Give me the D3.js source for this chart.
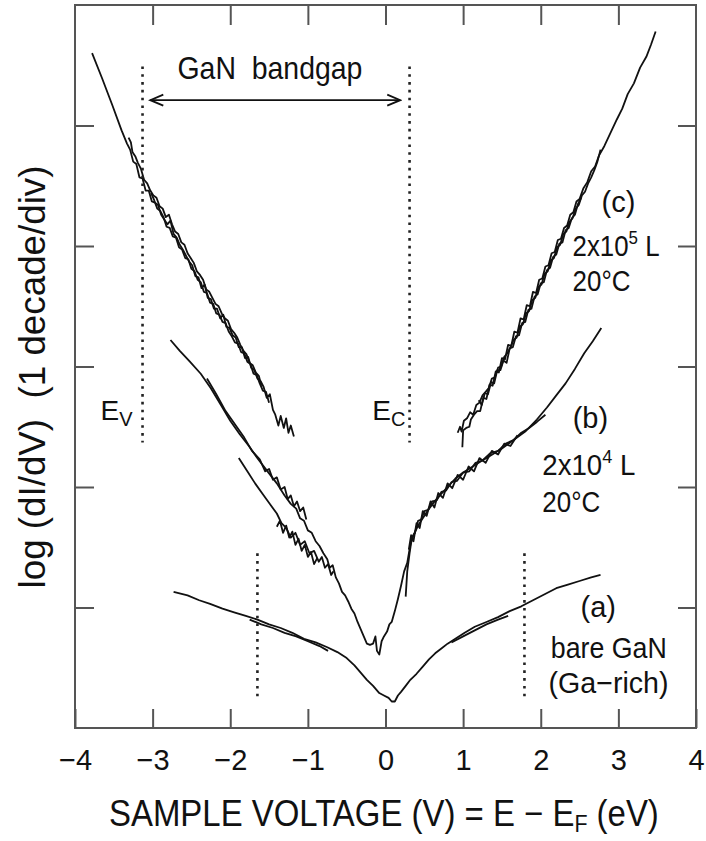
<!DOCTYPE html>
<html>
<head>
<meta charset="utf-8">
<script src="https://cdn.jsdelivr.net/npm/d3@7"></script>
<style>
body { margin: 0; background: #fff; }
text { font-family: "Liberation Sans", Arial, sans-serif; fill: #111; white-space: pre; }
</style>
</head>
<body>
<script>
// DATA (sample voltage in eV, log dI/dV in decades)
const xTicks = [-4, -3, -2, -1, 0, 1, 2, 3, 4];
const yTicks = [1, 2, 3, 4, 5];

// (c) 2x10^5 L, filled-state side
const cLeft1 = [[-3.78,5.60],[-3.65,5.39],[-3.52,5.17],[-3.40,4.96],[-3.33,4.85],[-3.29,4.80],[-3.25,4.70],[-3.21,4.68],[-3.17,4.57],[-3.13,4.56],[-3.09,4.46],[-3.05,4.46],[-3.01,4.37],[-2.97,4.36],[-2.93,4.34],[-2.89,4.26],[-2.85,4.22],[-2.81,4.18],[-2.77,4.21],[-2.73,4.10],[-2.69,4.07],[-2.65,4.01],[-2.61,3.97],[-2.57,3.92],[-2.53,3.87],[-2.49,3.84],[-2.45,3.75],[-2.41,3.74],[-2.37,3.65],[-2.33,3.68],[-2.29,3.57],[-2.25,3.56],[-2.21,3.48],[-2.17,3.48],[-2.13,3.40],[-2.09,3.43],[-2.05,3.33],[-2.01,3.32],[-1.97,3.26],[-1.93,3.24],[-1.89,3.16],[-1.85,3.16],[-1.81,3.07],[-1.77,3.08],[-1.73,2.99],[-1.69,2.97],[-1.65,2.90],[-1.61,2.88],[-1.57,2.83],[-1.53,2.74],[-1.49,2.77],[-1.45,2.64],[-1.42,2.60],[-1.38,2.51],[-1.35,2.59],[-1.31,2.49],[-1.28,2.57],[-1.25,2.45],[-1.22,2.51],[-1.18,2.42]];
const cLeft2 = [[-3.31,4.90],[-3.28,4.86],[-3.26,4.78],[-3.22,4.74],[-3.19,4.69],[-3.15,4.64],[-3.11,4.55],[-3.07,4.52],[-3.03,4.46],[-2.99,4.42],[-2.95,4.40],[-2.91,4.33],[-2.87,4.31],[-2.83,4.24],[-2.79,4.26],[-2.75,4.18],[-2.71,4.12],[-2.67,4.10],[-2.63,4.03],[-2.59,4.01],[-2.55,3.94],[-2.51,3.90],[-2.47,3.86],[-2.43,3.79],[-2.39,3.76],[-2.35,3.72],[-2.31,3.64],[-2.27,3.62],[-2.23,3.57],[-2.19,3.52],[-2.15,3.50],[-2.11,3.44],[-2.07,3.40],[-2.03,3.38],[-1.99,3.31],[-1.95,3.28],[-1.91,3.24],[-1.87,3.18],[-1.83,3.13],[-1.79,3.10],[-1.75,3.03],[-1.71,3.01],[-1.67,2.95],[-1.63,2.92],[-1.60,2.84]];
const cLeft3 = [[-3.02,4.44],[-2.98,4.38],[-2.94,4.31],[-2.90,4.29],[-2.86,4.24],[-2.82,4.16],[-2.78,4.15],[-2.74,4.08],[-2.70,4.07],[-2.66,3.99],[-2.62,3.97],[-2.58,3.90],[-2.54,3.89],[-2.50,3.81],[-2.46,3.79],[-2.42,3.72],[-2.38,3.70],[-2.34,3.62],[-2.30,3.61],[-2.26,3.53],[-2.22,3.52],[-2.18,3.44],[-2.14,3.43],[-2.10,3.37],[-2.06,3.36],[-2.02,3.29],[-1.98,3.25],[-1.94,3.20],[-1.90,3.19],[-1.86,3.12],[-1.82,3.11],[-1.78,3.04],[-1.74,3.02],[-1.70,2.94],[-1.66,2.93],[-1.62,2.86],[-1.58,2.80],[-1.54,2.79],[-1.50,2.70]];

// (c) empty-state side
const cRight1 = [[0.99,2.33],[1.00,2.47],[1.04,2.49],[1.08,2.50],[1.10,2.56],[1.14,2.60],[1.18,2.63],[1.22,2.63],[1.26,2.74],[1.30,2.73],[1.34,2.85],[1.38,2.84],[1.42,2.96],[1.46,2.95],[1.50,3.07],[1.54,3.06],[1.58,3.18],[1.62,3.17],[1.66,3.29],[1.70,3.28],[1.74,3.40],[1.78,3.39],[1.82,3.51],[1.86,3.50],[1.90,3.62],[1.94,3.61],[1.98,3.72],[2.02,3.73],[2.06,3.83],[2.10,3.84],[2.14,3.94],[2.18,3.95],[2.22,4.05],[2.26,4.06],[2.30,4.15],[2.34,4.17],[2.38,4.26],[2.42,4.28],[2.46,4.37],[2.50,4.39],[2.55,4.48],[2.60,4.53],[2.65,4.62],[2.70,4.66],[2.75,4.75],[2.82,4.83],[2.90,4.94],[2.98,5.05],[3.05,5.14],[3.12,5.26],[3.20,5.35],[3.28,5.48],[3.36,5.57],[3.42,5.67],[3.48,5.78]];
const cRight2 = [[0.93,2.45],[0.96,2.50],[0.98,2.46],[1.01,2.55],[1.05,2.57],[1.09,2.62],[1.13,2.60],[1.17,2.68],[1.21,2.70],[1.25,2.76],[1.29,2.79],[1.33,2.82],[1.37,2.90],[1.41,2.91],[1.45,2.99],[1.49,3.00],[1.53,3.08],[1.57,3.11],[1.61,3.16],[1.65,3.22],[1.69,3.24],[1.73,3.33],[1.77,3.35],[1.81,3.44],[1.85,3.46],[1.89,3.55],[1.93,3.57],[1.97,3.66],[2.01,3.68],[2.05,3.77],[2.09,3.79],[2.13,3.88],[2.17,3.90],[2.21,3.99],[2.25,4.01],[2.29,4.10],[2.33,4.12],[2.37,4.20],[2.41,4.23],[2.45,4.31],[2.49,4.34],[2.53,4.42],[2.57,4.45],[2.61,4.52],[2.65,4.57],[2.69,4.63],[2.73,4.70],[2.77,4.80]];
const cRight3 = [[1.20,2.72],[1.24,2.68],[1.28,2.78],[1.32,2.77],[1.36,2.87],[1.40,2.86],[1.44,2.97],[1.48,2.97],[1.52,3.05],[1.56,3.03],[1.60,3.15],[1.64,3.16],[1.68,3.25],[1.72,3.26],[1.76,3.36],[1.80,3.37],[1.84,3.47],[1.88,3.48],[1.92,3.58],[1.96,3.60],[2.00,3.69],[2.04,3.70],[2.08,3.80],[2.12,3.82],[2.16,3.91],[2.20,3.93],[2.24,4.02],[2.28,4.03],[2.32,4.13],[2.36,4.15],[2.40,4.23],[2.44,4.26],[2.48,4.35],[2.52,4.40]];

// (b) 2x10^4 L
const bMain = [[-2.77,3.22],[-2.65,3.13],[-2.52,3.04],[-2.38,2.94],[-2.25,2.82],[-2.12,2.68],[-2.00,2.55],[-1.88,2.44],[-1.76,2.34],[-1.64,2.23],[-1.52,2.13],[-1.40,2.03],[-1.30,1.93],[-1.22,1.86],[-1.15,1.82],[-1.10,1.74],[-1.05,1.72],[-1.00,1.64],[-0.95,1.62],[-0.90,1.55],[-0.85,1.51],[-0.80,1.45],[-0.75,1.40],[-0.72,1.33],[-0.68,1.35],[-0.64,1.25],[-0.60,1.20],[-0.56,1.13],[-0.52,1.10],[-0.48,1.05],[-0.44,0.99],[-0.40,0.95],[-0.36,0.88],[-0.32,0.82],[-0.28,0.76],[-0.24,0.70],[-0.20,0.69],[-0.16,0.70],[-0.13,0.76],[-0.11,0.64],[-0.08,0.61],[-0.05,0.72],[-0.02,0.76],[0.02,0.80],[0.05,0.86],[0.08,0.88],[0.12,0.97],[0.16,1.07],[0.20,1.18],[0.24,1.30],[0.28,1.37],[0.32,1.52],[0.36,1.60],[0.42,1.68],[0.48,1.74],[0.55,1.81],[0.62,1.87],[0.70,1.93],[0.80,2.00],[0.90,2.07],[1.00,2.12],[1.10,2.16],[1.22,2.21],[1.35,2.26],[1.50,2.32],[1.65,2.39],[1.80,2.46],[1.95,2.56],[2.08,2.66],[2.20,2.76],[2.32,2.86],[2.44,2.98],[2.56,3.11],[2.67,3.21],[2.78,3.32]];
const bLeft2 = [[-2.30,2.90],[-2.18,2.77],[-2.06,2.63],[-1.94,2.52],[-1.82,2.41],[-1.72,2.30],[-1.62,2.23],[-1.55,2.13],[-1.50,2.15],[-1.45,2.06],[-1.40,2.08],[-1.35,1.98],[-1.30,2.00],[-1.26,1.90],[-1.22,1.93],[-1.18,1.84],[-1.14,1.88],[-1.10,1.80],[-1.06,1.83],[-1.02,1.73]];
const bLeft3 = [[-1.89,2.24],[-1.78,2.13],[-1.68,2.03],[-1.58,1.94],[-1.48,1.85],[-1.40,1.78],[-1.34,1.70],[-1.28,1.66],[-1.22,1.58],[-1.16,1.62],[-1.10,1.52],[-1.04,1.55],[-0.98,1.45],[-0.92,1.47],[-0.86,1.38],[-0.82,1.42],[-0.78,1.33],[-0.74,1.36],[-0.70,1.27],[-0.67,1.30]];
const bLeft4 = [[-1.40,1.67],[-1.36,1.72],[-1.32,1.62],[-1.28,1.68],[-1.24,1.58],[-1.20,1.63],[-1.16,1.52],[-1.12,1.57],[-1.08,1.47],[-1.04,1.52],[-1.00,1.42],[-0.96,1.46],[-0.92,1.36],[-0.88,1.41]];
const bRight2 = [[0.26,1.09],[0.28,1.30],[0.31,1.45],[0.34,1.58],[0.38,1.62],[0.42,1.72],[0.46,1.73],[0.50,1.80],[0.55,1.81],[0.60,1.88],[0.66,1.89],[0.72,1.96],[0.78,1.97],[0.85,2.04],[0.92,2.05],[1.00,2.12],[1.08,2.13],[1.16,2.20],[1.25,2.22],[1.35,2.28],[1.45,2.30],[1.55,2.36],[1.65,2.39],[1.75,2.45],[1.85,2.49],[1.95,2.54],[2.06,2.60]];
const bRight3 = [[0.30,1.48],[0.33,1.60],[0.36,1.55],[0.40,1.70],[0.44,1.66],[0.48,1.80],[0.53,1.76],[0.58,1.88],[0.63,1.83],[0.68,1.95],[0.74,1.91],[0.80,2.03],[0.86,1.99],[0.93,2.10],[1.00,2.06],[1.07,2.17],[1.14,2.13],[1.21,2.24],[1.29,2.20],[1.37,2.30],[1.45,2.27],[1.53,2.36],[1.61,2.34],[1.70,2.43]];

// (a) bare GaN (Ga-rich)
const aMain = [[-2.73,1.13],[-2.55,1.10],[-2.40,1.06],[-2.26,1.03],[-2.10,0.99],[-1.95,0.96],[-1.80,0.93],[-1.65,0.90],[-1.50,0.86],[-1.35,0.83],[-1.20,0.79],[-1.05,0.74],[-0.90,0.71],[-0.75,0.67],[-0.62,0.63],[-0.50,0.58],[-0.40,0.52],[-0.32,0.46],[-0.24,0.40],[-0.16,0.35],[-0.08,0.29],[-0.02,0.27],[0.04,0.25],[0.08,0.22],[0.12,0.22],[0.16,0.27],[0.20,0.30],[0.26,0.35],[0.32,0.40],[0.40,0.45],[0.48,0.51],[0.56,0.57],[0.64,0.62],[0.72,0.66],[0.80,0.70],[0.90,0.74],[1.02,0.79],[1.15,0.84],[1.30,0.88],[1.45,0.92],[1.60,0.97],[1.75,1.01],[1.90,1.06],[2.05,1.11],[2.20,1.16],[2.35,1.19],[2.50,1.22],[2.65,1.25],[2.77,1.27]];
const aLeft2 = [[-1.75,0.90],[-1.60,0.86],[-1.45,0.83],[-1.30,0.79],[-1.15,0.76],[-1.00,0.72],[-0.85,0.68],[-0.74,0.64]];
const aRight2 = [[0.85,0.71],[1.00,0.76],[1.15,0.81],[1.30,0.86],[1.45,0.90],[1.58,0.93]];

// band edges and surface-state markers (x, yFrom, yTo)
const dottedLines = [[-3.13, 2.37, 5.49], [0.31, 2.37, 5.49], [-1.65, 0.25, 1.45], [1.79, 0.25, 1.45]];
const gapArrow = [[-3.03, 5.21], [0.19, 5.21]];

const traces = [cLeft1, cLeft2, cLeft3, cRight1, cRight2, cRight3,
  bMain, bLeft2, bLeft3, bLeft4, bRight2, bRight3, aMain, aLeft2, aRight2];

// CONFIGURATION
const width = 706;
const height = 841;
const margin = {top: 5, right: 10, bottom: 113, left: 75};
const xScale = d3.scaleLinear().domain([-4, 4]).range([margin.left, width - margin.right]);
const yScale = d3.scaleLinear().domain([0, 6]).range([height - margin.bottom, margin.top]);

const svg = d3.select('body').append('svg')
  .attr('width', width)
  .attr('height', height);

// AXES (ticks inside, labels only on bottom)
const tickColor = '#555';
function styleAxis(g) {
  g.select('.domain').remove();
  g.selectAll('.tick line').attr('stroke', tickColor).attr('stroke-width', 2);
}
svg.append('g')
  .attr('transform', `translate(0, ${yScale(0)})`)
  .call(d3.axisBottom(xScale).tickValues(xTicks).tickSize(-19).tickPadding(21))
  .call(styleAxis)
  .call(g => g.selectAll('.tick text').attr('font-size', 29).attr('fill', '#111')
    .attr('font-family', '"Liberation Sans", Arial, sans-serif'));
svg.append('g')
  .attr('transform', `translate(0, ${yScale(6)})`)
  .call(d3.axisTop(xScale).tickValues(xTicks.slice(1, -1)).tickSize(-20).tickFormat(''))
  .call(styleAxis);
svg.append('g')
  .attr('transform', `translate(${xScale(-4)}, 0)`)
  .call(d3.axisLeft(yScale).tickValues(yTicks).tickSize(-19).tickFormat(''))
  .call(styleAxis);
svg.append('g')
  .attr('transform', `translate(${xScale(4)}, 0)`)
  .call(d3.axisRight(yScale).tickValues(yTicks).tickSize(-18).tickFormat(''))
  .call(styleAxis);

svg.append('rect')
  .attr('x', xScale(-4))
  .attr('y', yScale(6))
  .attr('width', xScale(4) - xScale(-4))
  .attr('height', yScale(0) - yScale(6))
  .attr('fill', 'none')
  .attr('stroke', tickColor)
  .attr('stroke-width', 2);

// CURVES
const line = d3.line()
  .x(d => xScale(d[0]))
  .y(d => yScale(d[1]));

svg.append('g').selectAll('path')
  .data(traces)
  .enter()
  .append('path')
  .attr('d', line)
  .attr('fill', 'none')
  .attr('stroke', '#111')
  .attr('stroke-width', 1.8)
  .attr('stroke-linejoin', 'round');

// DOTTED MARKERS
svg.append('g').selectAll('line')
  .data(dottedLines)
  .enter()
  .append('line')
  .attr('x1', d => xScale(d[0]))
  .attr('x2', d => xScale(d[0]))
  .attr('y1', d => yScale(d[2]))
  .attr('y2', d => yScale(d[1]))
  .attr('stroke', '#222')
  .attr('stroke-width', 2.6)
  .attr('stroke-dasharray', '2.6,5.2');

// BANDGAP ARROW (open heads pointing outwards)
svg.append('defs').append('marker')
  .attr('id', 'head')
  .attr('viewBox', '-15 -7 17 14')
  .attr('refX', 0)
  .attr('refY', 0)
  .attr('markerWidth', 17)
  .attr('markerHeight', 14)
  .attr('markerUnits', 'userSpaceOnUse')
  .attr('orient', 'auto-start-reverse')
  .append('path')
  .attr('d', 'M-13,-5.5 L0,0 L-13,5.5')
  .attr('fill', 'none')
  .attr('stroke', '#111')
  .attr('stroke-width', 1.8);

svg.append('path')
  .datum(gapArrow)
  .attr('d', line)
  .attr('stroke', '#111')
  .attr('stroke-width', 1.8)
  .attr('fill', 'none')
  .attr('marker-start', 'url(#head)')
  .attr('marker-end', 'url(#head)');

// LABELS: text built at the origin, then moved and squeezed to the wanted width
function addLabel(px, py, parts, size, anchor, len, rot) {
  const t = svg.append('text')
    .attr('x', 0)
    .attr('y', 0)
    .attr('font-size', size)
    .attr('text-anchor', anchor || 'start');
  parts.forEach(p => {
    t.append('tspan')
      .attr('dy', p.dy || 0)
      .attr('font-size', p.size || null)
      .text(p.t);
  });
  const s = len ? len / t.node().getComputedTextLength() : 1;
  t.attr('transform', `translate(${px}, ${py})${rot ? ' rotate(-90)' : ''} scale(${s}, 1)`);
  return t;
}

addLabel(xScale(-2.68), yScale(5.39), [{t: 'GaN  bandgap'}], 31, 'start', 185);
addLabel(xScale(-3.67), yScale(2.56), [{t: 'E'}, {t: 'V', dy: 6, size: 20}], 28);
addLabel(xScale(-0.17), yScale(2.56), [{t: 'E'}, {t: 'C', dy: 6, size: 20}], 28);

addLabel(xScale(3.0), yScale(4.28), [{t: '(c)'}], 29, 'middle');
addLabel(xScale(2.41), yScale(3.92), [{t: '2x10'}, {t: '5', dy: -12, size: 19}, {t: ' L', dy: 12}], 29, 'start', 87);
addLabel(xScale(2.41), yScale(3.63), [{t: '20°C'}], 29, 'start', 58);

addLabel(xScale(2.64), yScale(2.49), [{t: '(b)'}], 29, 'middle');
addLabel(xScale(2.02), yScale(2.10), [{t: '2x10'}, {t: '4', dy: -12, size: 19}, {t: ' L', dy: 12}], 29, 'start', 93);
addLabel(xScale(2.02), yScale(1.79), [{t: '20°C'}], 29, 'start', 58);

addLabel(xScale(2.74), yScale(0.92), [{t: '(a)'}], 29, 'middle');
addLabel(xScale(2.13), yScale(0.58), [{t: 'bare GaN'}], 29, 'start', 116);
addLabel(xScale(2.10), yScale(0.29), [{t: '(Ga\u2212rich)'}], 29, 'start', 120);

// AXIS TITLES
addLabel(109, 826, [{t: 'SAMPLE VOLTAGE (V) = E \u2212 E'}, {t: 'F', dy: 6, size: 24}, {t: ' (eV)', dy: -6}], 37, 'start', 550);
addLabel(45, 377, [{t: 'log (dI/dV)  (1 decade/div)'}], 37, 'middle', 423, true);
</script>
</body>
</html>
